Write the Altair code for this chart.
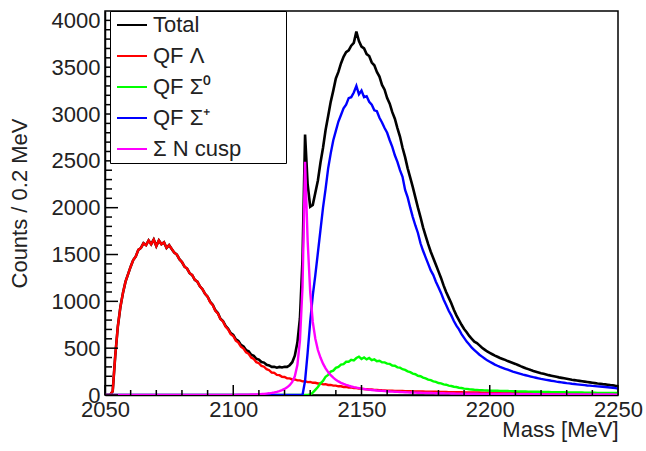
import altair as alt
import pandas as pd

FONT = "Liberation Sans"
TXT = "#222222"

MASS = list(range(2050, 2251))  # bin centres, 1 MeV steps
SERIES = ["Total", "QF Λ", "QF Σ⁰", "QF Σ⁺", "Σ N cusp"]
COLORS = ["#000000", "#ff0000", "#00ff00", "#0000ff", "#ff00ff"]

TOTAL = [
    0, 0, 0, 40, 420, 730, 940, 1090, 1210, 1290,
    1370, 1440, 1480, 1550, 1570, 1620, 1600, 1650, 1610, 1660,
    1590, 1650, 1610, 1630, 1570, 1600, 1560, 1520, 1500, 1450,
    1420, 1370, 1350, 1300, 1280, 1230, 1210, 1160, 1130, 1080,
    1050, 995, 965, 905, 875, 815, 790, 738, 708, 660,
    642, 594, 577, 535, 518, 480, 466, 430, 418, 386,
    378, 352, 346, 322, 316, 300, 302, 292, 300, 294,
    302, 300, 318, 350, 420, 560, 820, 1450, 2780, 2250,
    2010, 2030, 2160, 2290, 2480, 2640, 2830, 2980, 3130, 3250,
    3380, 3450, 3540, 3610, 3660, 3680, 3730, 3760, 3880, 3780,
    3720, 3700, 3640, 3620, 3550, 3520, 3450, 3400, 3310, 3260,
    3170, 3110, 3020, 2950, 2850, 2760, 2640, 2540, 2420, 2320,
    2220, 2110, 2000, 1900, 1790, 1700, 1610, 1530, 1460, 1390,
    1320, 1250, 1170, 1100, 1040, 980, 910, 850, 800, 750,
    705, 670, 630, 600, 570, 555, 530, 505, 485, 465,
    450, 435, 420, 408, 395, 385, 375, 362, 352, 342,
    332, 320, 308, 297, 286, 276, 266, 257, 249, 241,
    233, 226, 219, 212, 206, 200, 194, 188, 183, 178,
    173, 168, 163, 159, 155, 151, 147, 143, 139, 135,
    131, 127, 123, 120, 116, 113, 110, 106, 103, 99,
    96,
]

QF_LAMBDA = [
    0, 0, 0, 40, 420, 730, 940, 1090, 1210, 1290,
    1370, 1440, 1480, 1550, 1570, 1620, 1600, 1650, 1610, 1660,
    1590, 1650, 1610, 1630, 1570, 1600, 1560, 1520, 1500, 1450,
    1420, 1370, 1350, 1300, 1280, 1230, 1210, 1160, 1130, 1080,
    1050, 990, 960, 900, 870, 810, 785, 730, 700, 650,
    630, 580, 560, 515, 495, 455, 440, 400, 385, 350,
    340, 310, 302, 275, 265, 240, 236, 215, 212, 195,
    192, 178, 178, 166, 166, 156, 156, 146, 147, 138,
    140, 130, 131, 123, 123, 114, 116, 107, 108, 100,
    100, 93, 93, 86, 87, 80, 81, 74, 75, 69,
    68, 63, 62, 59, 58, 55, 54, 52, 50, 49,
    47, 46, 45, 44, 44, 42, 42, 41, 40, 40,
    39, 38, 38, 37, 37, 36, 35, 35, 34, 34,
    33, 33, 32, 32, 31, 31, 30, 30, 29, 29,
    28, 28, 27, 27, 27, 26, 26, 25, 25, 24,
    24, 24, 23, 23, 22, 22, 22, 21, 21, 20,
    20, 20, 19, 19, 19, 18, 18, 18, 17, 17,
    17, 16, 16, 16, 15, 15, 15, 14, 14, 14,
    13, 13, 13, 13, 12, 12, 12, 11, 11, 11,
    11, 10, 10, 10, 10, 9, 9, 9, 9, 8,
    8,
]

QF_SIGMA0 = [0] * 80 + [
    5, 25, 55, 85, 125, 150, 195, 215, 250, 260,
    290, 300, 325, 330, 355, 355, 375, 370, 395, 410,
    385, 400, 380, 395, 372, 380, 360, 365, 350, 348,
    335, 332, 315, 312, 295, 292, 275, 268, 252, 244,
    228, 222, 205, 200, 185, 178, 165, 158, 146, 140,
    128, 124, 113, 110, 100, 96, 88, 85, 78, 75,
    68, 66, 61, 59, 56, 54, 52, 51, 49, 48,
    47, 46, 46, 45, 44, 43, 43, 42, 41, 40,
    40, 39, 38, 38, 37, 36, 36, 35, 34, 34,
    33, 33, 32, 32, 31, 31, 30, 30, 29, 29,
    28, 28, 27, 27, 26, 26, 26, 25, 25, 24,
    24, 24, 23, 23, 23, 22, 22, 22, 21, 21,
    21,
]

QF_SIGMAP = [0] * 77 + [0, 150, 450] + [
    780, 1060, 1280, 1520, 1760, 2000, 2200, 2420, 2580, 2720,
    2820, 2920, 2990, 3060, 3100, 3170, 3180, 3230, 3300, 3210,
    3250, 3180, 3190, 3130, 3100, 3040, 3030, 2960, 2910, 2850,
    2800, 2720, 2650, 2560, 2490, 2400, 2330, 2190, 2110, 2000,
    1900, 1810, 1730, 1620, 1540, 1470, 1400, 1330, 1280, 1210,
    1150, 1090, 1020, 960, 900, 850, 790, 740, 700, 650,
    610, 570, 540, 505, 480, 455, 430, 410, 390, 370,
    355, 340, 325, 312, 300, 290, 280, 270, 260, 250,
    242, 234, 226, 218, 211, 204, 197, 190, 184, 178,
    172, 167, 162, 157, 152, 148, 143, 139, 135, 131,
    127, 124, 120, 117, 114, 111, 108, 105, 102, 100,
    97, 95, 92, 90, 88, 85, 83, 80, 77, 74,
    70,
]

CUSP = [0] * 50 + [
    1, 1, 2, 2, 3, 3, 4, 5, 6, 7,
    9, 10, 12, 15, 18, 22, 27, 33, 42, 52,
    65, 82, 105, 140, 200, 320, 580, 1150, 2490, 1650,
    1100, 780, 600, 480, 400, 335, 285, 245, 212, 185,
    162, 145, 130, 118, 108, 99, 91, 84, 78, 73,
    68, 64, 60, 57, 54, 51, 48, 46, 44, 42,
    40, 38, 36, 35, 33, 32, 31, 30, 28, 27,
    26, 25, 24, 24, 23, 22, 21, 21, 20, 19,
    19, 18, 18, 17, 17, 16, 16, 15, 15, 15,
    14, 14, 14, 13, 13, 13, 12, 12, 12, 12,
    11, 11, 11, 11, 10, 10, 10, 10, 10, 9,
    9, 9, 9, 9, 9, 8, 8, 8, 8, 8,
    8, 7, 7, 7, 7, 7, 7, 7, 7, 6,
    6, 6, 6, 6, 6, 6, 6, 6, 5, 5,
    5, 5, 5, 5, 5, 5, 5, 5, 5, 4,
    4,
]

X_MAJOR = [2050, 2100, 2150, 2200, 2250]
X_MINOR = [v for v in range(2060, 2250, 10) if v % 50]
Y_MAJOR = [0, 500, 1000, 1500, 2000, 2500, 3000, 3500, 4000]
Y_MINOR = [v for v in range(100, 4100, 100) if v % 500]

ALL = [TOTAL, QF_LAMBDA, QF_SIGMA0, QF_SIGMAP, CUSP]
for arr in ALL:
    assert len(arr) == len(MASS), len(arr)

W, H = 513, 384

xs = alt.Scale(domain=[2050, 2250], nice=False, zero=False)
ys = alt.Scale(domain=[0, 4100], nice=False, zero=False)
color_scale = alt.Scale(domain=SERIES, range=COLORS)

x_axis = alt.Axis(
    orient="bottom", values=X_MAJOR, format="d", ticks=False, tickSize=0,
    labelFont=FONT, labelFontSize=22, labelColor=TXT, labelPadding=4,
    labelFlush=False, labelOverlap=False, domainColor="black", domainWidth=1.5,
    grid=False, title="Mass [MeV]", titleFont=FONT, titleFontSize=22,
    titleFontWeight="normal", titleColor=TXT, titleAlign="right",
    titleBaseline="alphabetic", titleX=W, titleY=41,
)
y_axis = alt.Axis(
    orient="left", values=Y_MAJOR, format="d", ticks=False, tickSize=0,
    labelFont=FONT, labelFontSize=22, labelColor=TXT, labelPadding=5,
    labelFlush=False, labelOverlap=False, domainColor="black", domainWidth=1.5,
    grid=False, title="Counts / 0.2 MeV", titleFont=FONT, titleFontSize=22,
    titleFontWeight="normal", titleColor=TXT, titleAngle=270,
    titleAlign="center", titleBaseline="middle", titleX=-86, titleY=192,
)

legend = alt.Legend(
    title=".", titleOrient="right", titleColor="white", titleFontSize=4,
    titlePadding=40,
    orient="none", legendX=5, legendY=0, direction="vertical",
    symbolType="M-1.5,0H1.5", symbolSize=400, symbolStrokeWidth=2,
    symbolOffset=8, labelOffset=10, labelFont=FONT, labelFontSize=22,
    labelColor=TXT, labelBaseline="middle", padding=3, rowPadding=9,
    strokeColor="black", fillColor="white",
)

layers = []
for i, (name, vals) in enumerate(zip(SERIES, ALL)):
    d = pd.DataFrame({"mass": MASS, "counts": vals, "series": name})
    layers.append(
        alt.Chart(d).mark_line(strokeWidth=2.6 if i == 0 else 2.4, clip=True).encode(
            x=alt.X("mass:Q", scale=xs, axis=x_axis if i == 0 else None),
            y=alt.Y("counts:Q", scale=ys, axis=y_axis if i == 0 else None),
            color=alt.Color("series:N", scale=color_scale,
                            legend=legend if i == 0 else None),
        )
    )


def xticks(vals, length):
    d = pd.DataFrame({"t": vals})
    return alt.Chart(d).mark_rule(color="black", strokeWidth=1.5).encode(
        x=alt.X("t:Q", scale=xs, axis=None),
        y=alt.value(H), y2=alt.value(H - length),
    )


def yticks(vals, length):
    d = pd.DataFrame({"t": vals})
    return alt.Chart(d).mark_rule(color="black", strokeWidth=1.5).encode(
        y=alt.Y("t:Q", scale=ys, axis=None),
        x=alt.value(0), x2=alt.value(length),
    )


chart = (
    alt.layer(*layers, xticks(X_MAJOR, 10), xticks(X_MINOR, 5),
              yticks(Y_MAJOR, 13), yticks(Y_MINOR, 7))
    .resolve_axis(x="independent", y="independent")
    .properties(
        width=W, height=H,
        autosize=alt.AutoSizeParams(type="none"),
        padding={"left": 105, "top": 11, "right": 28, "bottom": 56},
        background="white",
    )
    .configure_view(stroke="black", strokeWidth=1.5)
)

chart.save("out.html", embed_options={"renderer": "svg", "actions": False})
